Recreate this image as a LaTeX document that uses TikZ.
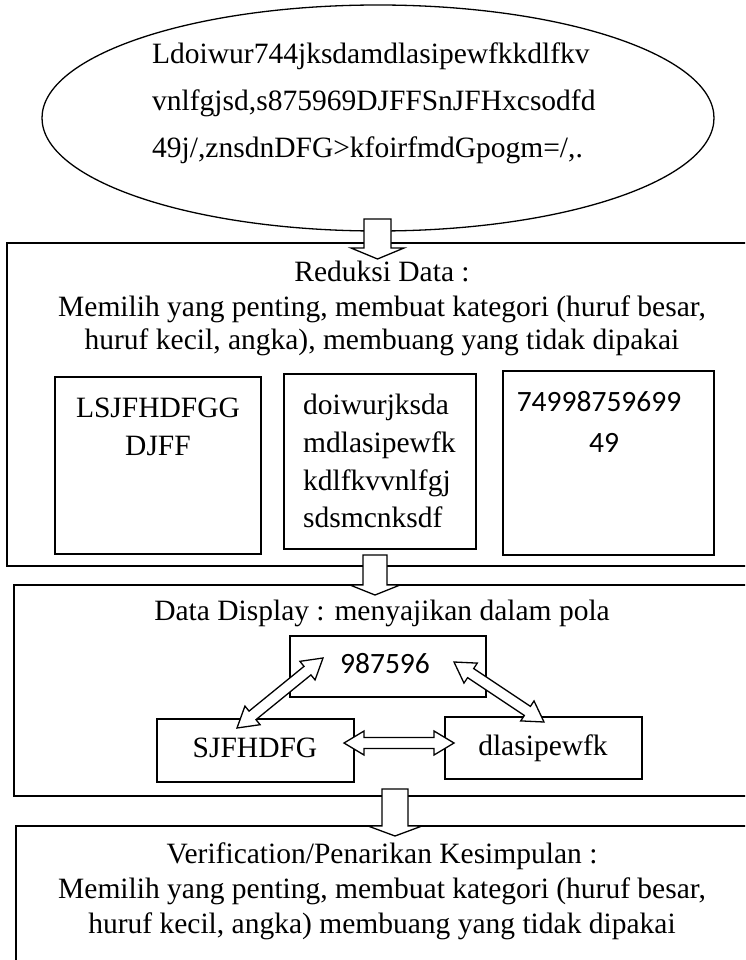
\documentclass[tikz,border=0pt]{standalone}
\usepackage{fontspec}
\setmainfont{Liberation Serif}
\newfontfamily\calfont{Carlito}
\usetikzlibrary{calc,shapes.geometric}
\tikzset{
  ln/.style={line width=1.3pt},
  box/.style={draw, ln, rectangle, inner sep=0pt, fill=white},
  txt/.style={inner sep=0pt, font=\fontsize{29.5}{34}\selectfont},
  stxt/.style={inner sep=0pt, font=\calfont\fontsize{29.5}{34}\selectfont},
  blk/.style={draw, ln, fill=white, line join=miter},
}
\def\dal{20pt}
\def\dah{12pt}
\def\das{5.5pt}
% hollow double-headed arrow between two named coordinates
\newcommand{\dblarr}[2]{%
  \draw[blk] (#1)
    -- ($(#1)!\dal!(#2)!\dah!90:(#2)$)
    -- ($(#1)!\dal!(#2)!\das!90:(#2)$)
    -- ($(#2)!\dal!(#1)!\das!90:(#2)$)
    -- ($(#2)!\dal!(#1)!\dah!90:(#2)$)
    -- (#2)
    -- ($(#2)!\dal!(#1)!\dah!-90:(#2)$)
    -- ($(#2)!\dal!(#1)!\das!-90:(#2)$)
    -- ($(#1)!\dal!(#2)!\das!-90:(#2)$)
    -- ($(#1)!\dal!(#2)!\dah!-90:(#2)$)
    -- cycle;}
% hollow block arrow pointing down: tip, head length, head half width, shaft half width, shaft length
\newcommand{\blkdown}[5]{%
  \draw[blk] (#1) -- ++(-#3,-#2) -- ++(#3-#4,0) -- ++(0,-#5) -- ++(2*#4,0)
    -- ++(0,#5) -- ++(#3-#4,0) -- cycle;}
\begin{document}
\begin{tikzpicture}[x=1pt,y=-1pt]
\useasboundingbox (0,0) rectangle (745,960);
\begin{scope}
\clip (0,0) rectangle (745,960);
% top ellipse
\node[draw, ln, ellipse, minimum width=672pt, minimum height=226pt, inner sep=0pt] (ell) at (378,118) {};
\node[txt, anchor=base west] (e1) at (152,64) {Ldoiwur744jksdamdlasipewfkkdlfkv};
\node[txt, anchor=base west] (e2) at (152,111) {vnlfgjsd,s875969DJFFSnJFHxcsodfd};
\node[txt, anchor=base west] (e3) at (152,158) {49j/,znsdnDFG>kfoirfmdGpogm=/,.};

% Reduksi Data
\node[box, minimum width=763pt, minimum height=323pt] (red) at (388.5,404.5) {};
\node[txt, anchor=base] (r1) at (382,281) {Reduksi Data :};
\node[txt, anchor=base] (r2) at (382,316) {Memilih yang penting, membuat kategori (huruf besar,};
\node[txt, anchor=base] (r3) at (382,349) {huruf kecil, angka), membuang yang tidak dipakai};

\node[box, minimum width=206pt, minimum height=177pt] (b1) at (158,465.5) {};
\node[box, minimum width=192pt, minimum height=175pt] (b2) at (380,461.5) {};
\node[box, minimum width=211pt, minimum height=184pt] (b3) at (608.5,463) {};
\node[txt, anchor=base] (b1a) at (158,417) {LSJFHDFGG};
\node[txt, anchor=base] (b1b) at (158,455) {DJFF};
\node[txt, anchor=base west] (b2a) at (303,414) {doiwurjksda};
\node[txt, anchor=base west] (b2b) at (303,452) {mdlasipewfk};
\node[txt, anchor=base west] (b2c) at (303,490) {kdlfkvvnlfgj};
\node[txt, anchor=base west] (b2d) at (303,527) {sdsmcnksdf};
\node[stxt, anchor=base] (b3a) at (599,411) {74998759699};
\node[stxt, anchor=base] (b3b) at (604,452) {49};

% Data Display
\node[box, minimum width=756pt, minimum height=211pt] (disp) at (392,690.5) {};
\node[txt, anchor=base] (d0) at (382,620) {Data Display : menyajikan dalam pola};
\node[box, minimum width=196pt, minimum height=61pt] (n98) at (388,666.5) {};
\node[box, minimum width=197pt, minimum height=63pt] (sj) at (255.5,750.5) {};
\node[box, minimum width=197pt, minimum height=62pt] (dl) at (543.5,748) {};
\node[stxt, anchor=base] (n98t) at (385,673) {987596};
\node[txt, anchor=base] (sjt) at (255,757) {SJFHDFG};
\node[txt, anchor=base] (dlt) at (543,755) {dlasipewfk};

\coordinate (l1) at (237,728);
\coordinate (l2) at (323,658);
\coordinate (q1) at (454,662);
\coordinate (q2) at (544,722);
\coordinate (h1) at (344,743);
\coordinate (h2) at (454,743);
\dblarr{l1}{l2}
\dblarr{q1}{q2}
\dblarr{h1}{h2}

% Verification
\node[box, minimum width=754pt, minimum height=164pt] (ver) at (393,908) {};
\node[txt, anchor=base] (v1) at (382,863) {Verification/Penarikan Kesimpulan :};
\node[txt, anchor=base] (v2) at (382,898) {Memilih yang penting, membuat kategori (huruf besar,};
\node[txt, anchor=base] (v3) at (382,933) {huruf kecil, angka) membuang yang tidak dipakai};

% block arrows
\coordinate (a1) at (377.5,259);
\coordinate (a2) at (375,595);
\coordinate (a3) at (395,836);
\blkdown{a1}{11}{26.5}{13.5}{29}
\blkdown{a2}{10}{25}{12}{30}
\blkdown{a3}{10}{27}{13}{37}
\end{scope}
\end{tikzpicture}
\end{document}
